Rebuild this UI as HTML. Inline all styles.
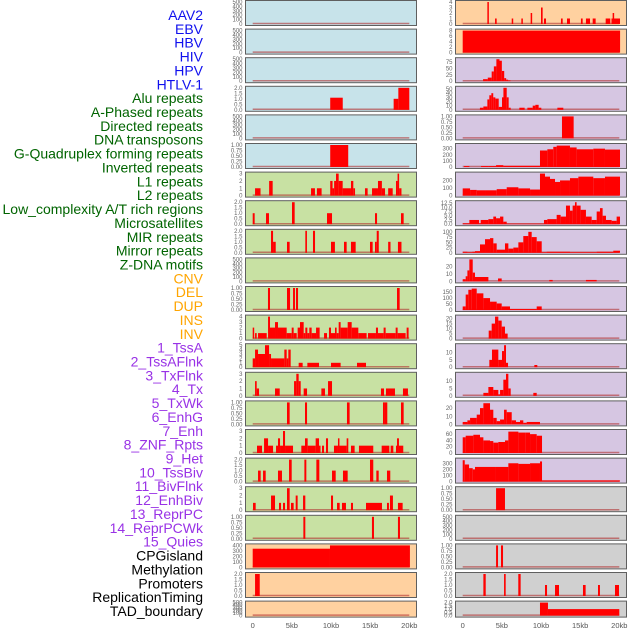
<!DOCTYPE html>
<html><head><meta charset="utf-8">
<style>
html,body{margin:0;padding:0;background:#fff;width:630px;height:630px;overflow:hidden}
svg{display:block}
</style></head>
<body>
<svg id="chart" width="630" height="630" viewBox="0 0 630 630" xmlns="http://www.w3.org/2000/svg"></svg>
<script>
// ---- track labels ----
const labels = ["AAV2","EBV","HBV","HIV","HPV","HTLV-1","Alu repeats","A-Phased repeats","Directed repeats","DNA transposons","G-Quadruplex forming repeats","Inverted repeats","L1 repeats","L2 repeats","Low_complexity A/T rich regions","Microsatellites","MIR repeats","Mirror repeats","Z-DNA motifs","CNV","DEL","DUP","INS","INV","1_TssA","2_TssAFlnk","3_TxFlnk","4_Tx","5_TxWk","6_EnhG","7_Enh","8_ZNF_Rpts","9_Het","10_TssBiv","11_BivFlnk","12_EnhBiv","13_ReprPC","14_ReprPCWk","15_Quies","CPGisland","Methylation","Promoters","ReplicationTiming","TAD_boundary"];
const labelColors = ["#1010ee","#006400","#ffa500","#9932e6","#000000"];
const labelGroups = [6,13,5,15,5];
const xTicks = [0,5,10,15,20];
const xTickLabels = ["0","5kb","10kb","15kb","20kb"];
// ---- tick sets ----
const T500=["0","100","200","300","400","500"], T1=["0.00","0.25","0.50","0.75","1.00"], T2=["0.0","0.5","1.0","1.5","2.0"], T3=["0","1","2","3"];
// ---- left column segments [startKb,endKb,value] ----
const L0=[],L1=[],L2=[],L4=[],L9=[],L21=[];
const L3=[[9.9,11.5,1.1],[18,18.6,1],[18.6,20,2]];
const L5=[[9.9,12.2,1]];
const L6=[[0.3,1.0,1],[2.1,2.55,2],[7.45,7.95,1],[8.2,8.8,1],[9.9,10.2,2],[10.2,10.4,1],[10.4,10.64,2],[10.64,10.98,3],[10.98,11.15,2],[11.15,11.49,2],[11.49,12.55,1],[12.55,12.85,2],[12.85,13.07,1],[14.34,14.68,1],[15.24,16,1],[16,16.5,2],[16.5,16.9,1],[17.3,17.88,1],[18.3,18.5,2],[18.5,18.7,3],[18.7,19.0,1]];
const L7=[[0,0.25,1],[1.7,2.08,1],[5.02,5.36,2],[9.49,10.13,1],[15.62,15.88,1],[18.94,19.28,1]];
const L8=[[2.34,2.6,2],[2.6,2.94,1],[4.38,4.72,1],[6.72,6.93,2],[7.7,7.96,2],[10,10.5,1],[11.66,12,1],[12.55,13.15,1],[14.98,15.32,1],[15.62,15.84,1],[15.84,16.1,2],[17.3,17.6,1],[18.55,19,1]];
const L10=[[1.95,2.21,1],[4.38,4.77,1],[5.15,5.4,1],[5.53,5.79,1],[18.43,18.77,1]];
const L11=[[0,0.13,2],[0.3,0.51,1],[0.68,1.79,1],[1.96,2.21,4],[2.21,2.85,2],[2.85,3.23,3],[3.23,4.34,2],[4.34,4.98,1],[4.98,5.23,2],[5.23,5.62,1],[5.74,6.04,2],[6.04,6.51,3],[6.51,6.72,1],[6.72,6.98,2],[6.98,7.23,1],[7.23,7.53,2],[7.53,8.09,1],[8.09,8.55,2],[9.11,9.49,1],[9.74,10,2],[10,10.51,1],[10.51,10.72,2],[10.72,10.98,1],[10.98,11.23,3],[11.23,12.13,2],[12.13,12.64,3],[12.64,13.49,2],[13.49,14.55,1],[14.72,15.74,1],[15.74,16,2],[16,16.72,1],[16.72,16.98,2],[16.98,18.26,1],[18.26,18.51,2],[18.51,19.53,1],[19.66,19.91,2]];
const L12=[[0,0.3,2],[0.3,0.68,4],[0.68,1.57,3],[1.57,2.09,5],[2.09,2.34,3],[2.34,4.04,2],[4.04,4.34,4],[4.34,4.55,2],[4.55,4.85,4],[5.87,6.38,1],[6.98,8.47,1],[10,11.23,1],[13.32,14.47,1]];
const L13=[[0.3,0.51,2],[0.51,0.81,1],[2.85,3.45,1],[5.28,5.57,2],[5.57,5.87,3],[5.87,6.13,2],[6.51,6.94,1],[8.77,9.23,1],[9.62,10.13,2],[16.38,16.77,1],[17.02,18.17,1],[19.19,19.83,1]];
const L14=[[4.38,4.72,1],[6.68,6.94,1],[12.04,12.38,1],[16.64,16.89,1],[16.89,17.19,1],[18.94,19.28,1]];
const L15=[[0.55,1.19,1],[1.45,1.96,2],[1.96,2.6,1],[2.98,3.23,1],[3.23,3.49,2],[3.49,3.87,1],[3.87,4.13,3],[4.13,5.15,1],[6.21,6.68,1],[6.68,7.02,2],[7.02,8.04,1],[8.04,8.47,2],[8.47,8.6,1],[8.85,9.11,1],[9.36,9.62,2],[10.38,10.89,1],[10.89,11.06,2],[11.06,12,1],[12,12.21,2],[12.55,13.02,1],[13.57,15.4,1],[16.47,17.45,1],[17.62,17.96,1],[18.3,18.43,1],[18.43,18.68,2],[18.68,19.23,1]];
const L16=[[0.68,1.02,1],[1.32,1.66,1],[3.23,3.74,1],[4.64,4.98,2],[6.6,6.85,2],[8.13,8.51,2],[10.13,10.6,1],[11.53,12.13,1],[14.98,15.4,2],[15.79,16.09,1],[17.15,17.57,1]];
const L17=[[0.04,0.38,1],[2.34,2.85,2],[3.36,3.62,1],[3.87,4.13,1],[4.38,4.72,3],[4.89,5.23,1],[5.49,5.74,2],[6.43,6.72,2],[10,10.26,2],[10.77,11.11,1],[11.4,11.91,1],[12.55,12.81,1],[14.47,16.51,1],[17.15,17.4,1],[17.53,17.91,2],[18.55,19.15,1]];
const L18=[[6.47,6.72,1],[15.23,15.49,1],[18.55,18.81,1]];
const L19=[[0,9.87,340],[9.87,20.08,400]];
const L20=[[0.3,0.9,2]];
// ---- right column segments ----
const R0=[[3.15,3.32,4],[4.13,4.34,1],[6.26,6.43,1],[7.49,7.66,1],[8.68,8.85,2],[10,10.21,3],[10.38,10.64,1],[12.55,12.77,1],[13.32,13.7,1],[15.1,15.32,1],[15.74,16.26,1],[16.6,16.98,1],[18.26,18.85,1],[19.0,19.15,1],[19.15,19.32,2],[19.32,20.09,1]];
const R1=[[0,20.1,8]];
const R2=[[2.6,3.2,8],[3.2,3.7,14],[3.7,3.98,38],[3.98,4.3,58],[4.3,4.7,86],[4.7,5.0,80],[5.0,5.3,40],[5.3,5.55,12],[5.55,5.8,6],[5.8,6.1,3]];
const R3=[[2.2,2.64,5],[2.64,3.15,8],[3.15,3.4,25],[3.4,3.66,35],[3.66,3.9,40],[3.9,4.17,30],[4.17,4.6,27],[4.6,5.02,7],[5.02,5.2,30],[5.2,5.62,53],[5.62,5.87,30],[5.87,6.13,5],[7.23,7.91,5],[8.26,8.94,5],[8.94,9.28,10],[9.28,9.7,12],[9.7,10.04,5],[12.09,12.85,5]];
const R4=[[12.68,14.17,1]];
const R5=[[0.17,0.85,15],[2.34,3.28,15],[3.28,4.26,15],[4.26,5.19,30],[5.19,9.87,20],[9.87,10.81,270],[10.81,11.57,290],[11.57,12,330],[12,13.7,350],[13.7,14.55,320],[14.55,16.68,290],[16.68,18.17,300],[18.17,20.09,285]];
const R6=[[0,0.94,95],[0.94,1.79,75],[1.79,2.85,70],[2.85,4.34,70],[4.34,5.62,85],[5.62,7.11,110],[7.11,8.6,95],[8.6,9.87,80],[9.87,10.51,290],[10.51,11.15,250],[11.15,11.79,220],[11.79,12.43,180],[12.43,13.7,200],[13.7,14.77,230],[14.77,16.68,250],[16.68,18.17,230],[18.17,20.09,250]];
const R7=[[0,0.85,0.5],[0.85,2.09,2.5],[2.09,2.3,0.5],[2.3,3.28,2.5],[3.28,3.91,3],[3.91,4.26,4.5],[4.26,4.77,3.5],[4.77,5.19,4.5],[5.19,5.62,1.5],[5.62,10.38,0.3],[10.38,10.81,2.5],[10.81,12,3],[12,12.51,5.5],[12.51,13.19,4.5],[13.19,13.7,11],[13.7,14.04,8],[14.04,14.34,11],[14.34,14.55,13],[14.55,15.06,11],[15.06,15.74,8.5],[15.74,16.47,4.5],[16.47,17.11,2.5],[17.11,17.53,7.5],[17.53,17.87,9.5],[17.87,18.3,5],[18.3,19.02,2.5],[19.02,19.66,2],[19.66,20.09,4.5]];
const R8=[[0,0.6,5],[0.6,1.23,3],[1.23,1.57,5],[1.57,2.21,8],[2.21,2.85,40],[2.85,3.49,65],[3.49,3.91,70],[3.91,4.34,45],[4.34,5.4,15],[5.4,5.83,45],[5.83,6.47,20],[6.47,7.11,25],[7.11,7.74,50],[7.74,8.38,80],[8.38,8.81,100],[8.81,9.45,75],[9.45,10.09,55],[10.09,10.72,3],[10.72,13.7,5],[13.7,17.11,3],[17.11,19.23,5],[19.23,20.09,10]];
const R9=[[0,0.38,3],[0.38,0.6,7],[0.6,0.85,15],[0.85,1.28,30],[1.28,1.57,12],[1.57,3.28,6],[4.51,4.98,4],[11.06,11.49,2],[15.74,17.11,2]];
const R10=[[0,0.38,30],[0.38,0.72,130],[0.72,1.15,170],[1.15,1.79,180],[1.79,2.64,140],[2.64,3.49,100],[3.49,4.34,70],[4.34,4.98,55],[4.98,6.04,30],[6.04,9.45,8],[9.45,10.09,30]];
const R11=[[3.32,3.7,8],[3.7,4.13,15],[4.13,4.55,22],[4.55,4.98,18],[4.98,5.4,12],[5.4,5.74,5]];
const R12=[[3.4,3.74,5],[3.74,4.55,12],[4.55,5.02,5],[5.02,5.28,11],[5.28,5.53,15],[5.53,5.79,3],[9.15,9.53,1.5]];
const R13=[[2.64,3.28,2],[3.28,3.91,6],[3.91,4.55,4],[4.55,4.77,1],[4.77,5.19,4],[5.19,5.53,11],[5.53,5.83,15],[5.83,6.13,5],[9.02,9.45,2]];
const R14=[[0,0.6,3],[0.6,0.94,5],[0.94,1.79,8],[1.79,2.21,12],[2.21,2.64,20],[2.64,3.49,26],[3.49,3.91,18],[3.91,4.34,8],[4.34,4.77,4],[4.77,5.28,6],[5.28,5.62,18],[5.62,6.26,15],[6.26,6.81,5],[6.81,7.32,3],[7.32,7.74,5],[7.74,8.17,2],[8.17,9.87,3]];
const R15=[[0,0.38,50],[0.38,1.36,55],[1.36,2.21,58],[2.21,2.64,50],[2.64,3.49,40],[3.49,3.91,38],[3.91,4.55,33],[4.55,5.4,35],[5.4,5.83,40],[5.83,7.11,68],[7.11,8.0,65],[8.0,8.6,65],[8.6,9.45,60],[9.45,10.13,55]];
const R16=[[0,0.26,350],[0.26,0.81,280],[0.81,1.28,220],[1.28,1.57,200],[1.57,4.13,240],[4.13,5.83,240],[5.83,7.11,300],[7.11,8.6,290],[8.6,9.87,300],[9.87,10.13,330],[10.13,20.08,20]];
const R17=[[4.26,5.4,1]];
const R18=[];
const R19=[[4.26,4.51,1],[4.89,5.15,1]];
const R20=[[2.64,2.94,2],[5.28,5.49,2],[7.1,7.4,2],[10.51,10.77,1],[11.79,12.3,1],[15.36,15.7,1],[17.28,17.53,1],[19.45,19.96,1]];
const R21=[[9.87,10.89,2],[10.89,20,1]];

const BLUE="#c7e3ea",GREEN="#c8e1a3",PEACH="#ffd1a0",PURPLE="#d6c6e2",GRAY="#d0d0d0";
const left=[
 [L0,BLUE,500,T500],[L1,BLUE,500,T500],[L2,BLUE,500,T500],[L3,BLUE,2,T2],[L4,BLUE,500,T500],[L5,BLUE,1,T1],
 [L6,GREEN,3,T3],[L7,GREEN,2,T2],[L8,GREEN,2,T2],[L9,GREEN,500,T500],[L10,GREEN,1,T1],[L11,GREEN,4,["0","1","2","3","4"]],
 [L12,GREEN,5,["0","1","2","3","4","5"]],[L13,GREEN,3,T3],[L14,GREEN,1,T1],[L15,GREEN,3,T3],[L16,GREEN,2,T2],[L17,GREEN,3,T3],[L18,GREEN,1,T1],
 [L19,PEACH,400,["0","100","200","300","400"]],[L20,PEACH,2,T2],[L21,PEACH,500,T500]];
const right=[
 [R0,PEACH,4,["0","1","2","3","4"]],[R1,PEACH,8,["0","2","4","6","8"]],
 [R2,PURPLE,86,["0","25","50","75"]],[R3,PURPLE,53,["0","10","20","30","40","50"]],[R4,PURPLE,1,T1],
 [R5,PURPLE,360,["0","100","200","300"]],[R6,PURPLE,290,["0","100","200"]],[R7,PURPLE,13,["0.0","2.5","5.0","7.5","10.0","12.5"]],
 [R8,PURPLE,105,["0","25","50","75","100"]],[R9,PURPLE,30,["0","10","20"]],[R10,PURPLE,185,["0","50","100","150"]],
 [R11,PURPLE,22,["0","5","10","15","20"]],[R12,PURPLE,15,["0","5","10"]],[R13,PURPLE,15,["0","5","10"]],
 [R14,PURPLE,27,["0","10","20"]],[R15,PURPLE,70,["0","20","40","60"]],[R16,PURPLE,360,["0","100","200","300"]],
 [R17,GRAY,1,T1],[R18,GRAY,500,T500],[R19,GRAY,1,T1],[R20,GRAY,2,T2],[R21,GRAY,2,T2]];

const NS="http://www.w3.org/2000/svg";
const svg=document.getElementById('chart');
function mk(tag,attrs,parent){const e=document.createElementNS(NS,tag);for(const k in attrs)e.setAttribute(k,attrs[k]);(parent||svg).appendChild(e);return e;}

// labels
let li=0;
labelGroups.forEach((n,g)=>{for(let k=0;k<n;k++){const t=mk('text',{x:203,y:15+li*13.86+5,'text-anchor':'end','font-family':'Liberation Sans, sans-serif','font-size':14,fill:labelColors[g]});


t.textContent=labels[li];li++;}});

const KB=7.83;
function rowTop(i){return 0.5+i*28.6;}
function drawPanel(spec,i,colX,x0){
  const [segs,bg,ymax,ticks]=spec;
  const top=rowTop(i), h=(i===21?16:25), w=171;
  const g=mk('g',{});
  
  
  mk('rect',{x:colX,y:top,width:w,height:h,fill:bg},g);
  const yb=top+h-1.5, yt=top+1.5;
  const ys=v=>yb-(v/ymax)*(yb-yt);
  const xs=kb=>x0+kb*KB;
  mk('line',{x1:xs(0),x2:xs(20),y1:yb-0.5,y2:yb-0.5,stroke:'#b03030','stroke-opacity':0.6,'stroke-width':1.5},g);
  segs.forEach(s=>{const r=mk('rect',{x:xs(s[0]),y:ys(s[2]),width:Math.max(1.5,xs(s[1])-xs(s[0])),height:yb-ys(s[2]),fill:'#ff0000'},g);
    
    });
  mk('rect',{x:colX,y:top,width:w,height:h,fill:'none',stroke:'#5f5f5f','stroke-width':1},g);
  ticks.forEach(t=>{const v=parseFloat(t);const tx=mk('text',{x:colX-3,y:ys(v)+2,'text-anchor':'end','font-family':'Liberation Sans, sans-serif','font-size':6,fill:'#666'},g);
    
    
    tx.textContent=t;});
}
left.forEach((s,i)=>drawPanel(s,i,245.5,252.7));
right.forEach((s,i)=>drawPanel(s,i,455.5,462.7));
[252.7,462.7].forEach(x0=>{xTicks.forEach((k,j)=>{const t=mk('text',{x:x0+k*KB,y:628,'text-anchor':'middle','font-family':'Liberation Sans, sans-serif','font-size':7.5,fill:'#555'});
  
  
  t.textContent=xTickLabels[j];});});
</script>
</body></html>
